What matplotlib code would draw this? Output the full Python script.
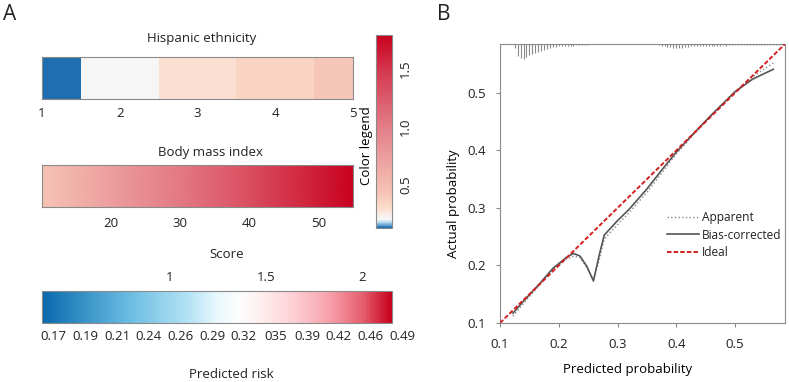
import numpy as np
import matplotlib
matplotlib.use("Agg")
import matplotlib.pyplot as plt
from matplotlib.colors import LinearSegmentedColormap, Normalize
from matplotlib.cm import ScalarMappable

plt.rcParams['font.family'] = ['Open Sans', 'DejaVu Sans']
plt.rcParams['font.size'] = 9
plt.rcParams['text.color'] = '#222222'
plt.rcParams['xtick.color'] = '#222222'
plt.rcParams['ytick.color'] = '#222222'

# ---- panel A data ----
hisp_levels = [1, 2, 3, 4, 5]
hisp_effect = [0.13, 0.205, 0.29, 0.35, 0.42]

bmi_values = [10, 20, 30, 40, 50, 55]
bmi_effect = [0.44, 0.74, 1.03, 1.33, 1.63, 1.78]
bmi_ticks = [20, 30, 40, 50]

score_range = [0.34, 2.155]
score_ticks = [1, 1.5, 2]
risk_labels = ["0.17", "0.19", "0.21", "0.24", "0.26", "0.29",
               "0.32", "035", "0.39", "0.42", "0.46", "0.49"]

legend_range = [0.13, 1.79]
legend_ticks = [0.5, 1.0, 1.5]

# ---- panel B data ----
pred = [0.122, 0.14, 0.168, 0.19, 0.213, 0.225, 0.236, 0.248, 0.259, 0.2695,
        0.2775, 0.30, 0.32, 0.35, 0.38, 0.40, 0.43, 0.46, 0.50, 0.53, 0.565]
bias_corr = [0.117, 0.138, 0.169, 0.195, 0.214, 0.221, 0.2165, 0.198, 0.173, 0.221,
             0.253, 0.278, 0.298, 0.333, 0.372, 0.397, 0.430, 0.462, 0.502, 0.524, 0.541]
apparent = [0.112, 0.134, 0.167, 0.193, 0.211, 0.216, 0.214, 0.196, 0.175, 0.212,
            0.246, 0.271, 0.292, 0.327, 0.367, 0.394, 0.428, 0.461, 0.503, 0.528, 0.552]

rug_x = [0.125, 0.130, 0.135, 0.140, 0.145, 0.150, 0.155, 0.160, 0.165, 0.170,
         0.175, 0.180, 0.185, 0.190, 0.195, 0.200, 0.205, 0.210, 0.215, 0.220,
         0.225, 0.230, 0.235, 0.240, 0.245, 0.250,
         0.370, 0.375, 0.380, 0.385, 0.390, 0.395, 0.400, 0.405, 0.410, 0.415,
         0.420, 0.425, 0.430, 0.435, 0.440, 0.445, 0.450, 0.455, 0.460, 0.465,
         0.470, 0.475, 0.480, 0.485, 0.490, 0.495, 0.500, 0.505, 0.510, 0.515,
         0.520, 0.525, 0.530, 0.535, 0.540, 0.545, 0.550, 0.555, 0.560, 0.565,
         0.570, 0.575, 0.580]
rug_h = [4, 12, 14, 15, 13, 11, 9.5, 8.5, 7.5, 6.5,
         5.5, 4.5, 3.5, 3, 2.5, 2, 2, 1.5, 1.5, 1.5,
         1.5, 1, 1, 1, 1, 1,
         1, 1.5, 2, 2.5, 3, 3.5, 4, 4, 3.5, 3,
         2.5, 2, 2, 1.5, 1.5, 1.5, 1.5, 1.5, 1.5, 1.5,
         1.5, 1.5, 1, 1.5, 1, 1, 1, 1, 1, 1,
         1, 1, 1, 1, 1, 1, 1, 1, 1, 1,
         1, 1, 1]
spike_scale = 0.00175

# colour maps
legend_cmap = LinearSegmentedColormap.from_list("legend", [
    (0.0, "#1f6fb0"), (0.025, "#a8d4ea"), (0.04, "#f6f6f6"), (0.05, "#f6f6f6"),
    (0.10, "#fcdccb"), (0.19, "#f5c2b4"), (0.5, "#e5838c"), (0.8, "#d63c52"),
    (1.0, "#c8001e")])
legend_norm = Normalize(*legend_range)

score_cmap = LinearSegmentedColormap.from_list("score", [
    (0.0, "#0a6aad"), (0.25, "#6bbde2"), (0.42, "#b5e3f5"), (0.5, "#e8f8fc"),
    (0.56, "#fbfdfd"), (0.62, "#fff0f0"), (0.72, "#fdd0d5"), (0.82, "#f8a2ac"),
    (0.92, "#e45c6c"), (1.0, "#c8001e")])

W, H = 789, 382
fig = plt.figure(figsize=(W / 100, H / 100), dpi=100)


def box(l, t, r, b):
    return [l / W, 1 - b / H, (r - l) / W, (b - t) / H]


edge = '#8a8a8a'

# Hispanic ethnicity
ax_h = fig.add_axes(box(42, 57, 353, 99))
edges = [v - 0.5 for v in hisp_levels] + [hisp_levels[-1] + 0.5]
ax_h.pcolormesh(edges, [0, 1], [hisp_effect], cmap=legend_cmap, norm=legend_norm)
ax_h.set_xlim(hisp_levels[0], hisp_levels[-1])
ax_h.set_ylim(0, 1)
ax_h.set_yticks([])
ax_h.set_xticks(hisp_levels)
ax_h.tick_params(axis='x', length=0, pad=6, labelsize=9.5)
ax_h.text(0.514, 1.45, "Hispanic ethnicity", transform=ax_h.transAxes,
          ha='center', va='center', fontsize=9.5)

# Body mass index
ax_b = fig.add_axes(box(42, 165, 353, 207))
X = np.array([bmi_values, bmi_values])
Y = np.array([[0] * len(bmi_values), [1] * len(bmi_values)])
C = np.array([bmi_effect, bmi_effect])
ax_b.pcolormesh(X, Y, C, cmap=legend_cmap, norm=legend_norm, shading='gouraud')
ax_b.set_xlim(bmi_values[0], bmi_values[-1])
ax_b.set_ylim(0, 1)
ax_b.set_yticks([])
ax_b.set_xticks(bmi_ticks)
ax_b.tick_params(axis='x', length=0, pad=7, labelsize=9.5)
ax_b.text(0.54, 1.29, "Body mass index", transform=ax_b.transAxes,
          ha='center', va='center', fontsize=9.5)

for a in (ax_h, ax_b):
    for s in a.spines.values():
        s.set_color(edge)

# Score bar
ax_s = fig.add_axes(box(42, 291, 392, 323))
cb_s = fig.colorbar(ScalarMappable(norm=Normalize(*score_range), cmap=score_cmap),
                    cax=ax_s, orientation='horizontal', ticklocation='top',
                    ticks=score_ticks)
cb_s.ax.set_xticklabels(["1", "1.5", "2"])
cb_s.ax.tick_params(length=0, pad=5, labelsize=9.5)
cb_s.outline.set_edgecolor(edge)
fig.text(227 / W, 1 - 255 / H, "Score", ha='center', va='center', fontsize=9.5)

ax_r = fig.add_axes(box(38, 330, 418, 344))
ax_r.axis('off')
ax_r.set_xlim(-0.5, len(risk_labels) - 0.5)
ax_r.set_ylim(-1, 1)
for i, lab in enumerate(risk_labels):
    ax_r.text(i, 0, lab, ha='center', va='center', fontsize=9.5)
fig.text(231 / W, 1 - 374 / H, "Predicted risk", ha='center', va='center', fontsize=9.5)

# Colour legend
ax_c = fig.add_axes(box(376, 35, 392, 228))
cb = fig.colorbar(ScalarMappable(norm=legend_norm, cmap=legend_cmap), cax=ax_c,
                  ticks=legend_ticks)
cb.ax.set_yticklabels(["0.5", "1.0", "1.5"], rotation=90, va='center')
cb.ax.tick_params(length=0, pad=5, labelsize=9.5)
cb.outline.set_edgecolor(edge)
cb.ax.yaxis.set_label_position('left')
cb.set_label("Color legend", fontsize=9.5)
cb.ax.yaxis.set_label_coords(-0.2, 0.425)

fig.text(3 / W, 1 - 14 / H, "A", ha='left', va='center', fontsize=15)
fig.text(437 / W, 1 - 14 / H, "B", ha='left', va='center', fontsize=15)

# Panel B calibration
ax = fig.add_axes(box(500, 44, 785, 323))
lo, hi = 0.1, 0.585
ax.plot([lo, hi], [lo, hi], color='#d42020', lw=1.4, ls=(0, (2.3, 1.1)), label='Ideal', zorder=3)
ax.plot(pred, apparent, color='#8a8a8a', lw=1.0, ls=':', label='Apparent')
ax.plot(pred, bias_corr, color='#555555', lw=1.2, label='Bias-corrected')
ax.vlines(rug_x, [hi - h * spike_scale for h in rug_h], hi, color='#8a8a8a', lw=0.8)
ax.set_xlim(lo, hi)
ax.set_ylim(lo, hi)
ax.set_xticks([0.1, 0.2, 0.3, 0.4, 0.5])
ax.set_yticks([0.1, 0.2, 0.3, 0.4, 0.5])
ax.tick_params(direction='out', length=3, color=edge, labelsize=9.5)
ax.tick_params(axis='x', pad=8)
ax.tick_params(axis='y', pad=7)
for s in ax.spines.values():
    s.set_color(edge)
ax.set_xlabel("Predicted probability", fontsize=9.5)
ax.xaxis.set_label_coords(0.447, -0.143)
ax.set_ylabel("Actual probability", fontsize=9.5)
ax.yaxis.set_label_coords(-0.14, 0.4265)

handles, labels = ax.get_legend_handles_labels()
order = [labels.index(n) for n in ("Apparent", "Bias-corrected", "Ideal")]
ax.legend([handles[i] for i in order], [labels[i] for i in order],
          loc='upper left', bbox_to_anchor=(0.586, 0.40), frameon=False,
          handlelength=2.7, handletextpad=0.2, labelspacing=0.35,
          borderaxespad=0, borderpad=0, fontsize=8.6)

fig.savefig("out.png", dpi=100)
